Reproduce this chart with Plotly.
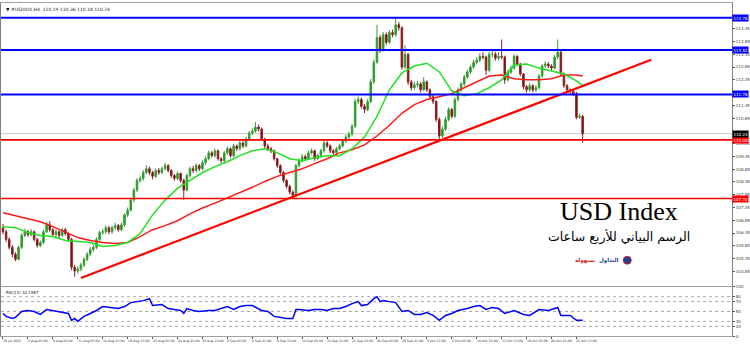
import plotly.graph_objects as go

# ---------------- data ----------------
closes = [106.40,106.10,105.79,105.52,105.32,105.79,106.25,106.40,106.29,106.40,
          106.10,105.86,105.98,106.40,106.67,106.48,106.29,106.40,106.25,106.48,
          106.33,106.10,105.01,104.86,104.94,105.09,105.32,105.52,105.71,105.79,
          106.10,106.37,106.40,106.56,106.40,106.56,106.64,106.48,106.67,107.06,
          107.25,107.64,108.03,108.41,108.49,108.72,108.87,108.72,108.57,108.80,
          108.72,108.87,108.99,108.80,108.60,108.49,108.68,108.41,108.03,108.60,
          108.87,108.80,108.99,108.87,109.11,109.26,109.49,109.38,109.57,109.26,
          109.18,109.49,109.65,109.38,109.76,109.65,109.88,109.76,110.03,110.26,
          110.34,110.50,110.42,110.03,109.76,109.65,109.57,109.26,108.99,108.72,
          108.41,108.18,107.95,107.83,108.99,109.18,109.34,109.26,109.49,109.57,
          109.26,109.38,109.57,109.88,109.76,109.57,109.49,109.65,109.76,109.95,
          110.11,110.23,110.53,111.50,111.58,111.31,111.19,111.50,112.27,113.04,
          114.01,113.51,114.12,113.82,114.20,114.12,114.51,114.39,112.85,113.35,
          112.27,112.04,112.16,112.19,111.96,112.27,111.96,111.69,111.50,110.80,
          110.15,110.42,110.80,111.19,110.92,111.58,111.96,112.19,112.46,112.66,
          112.85,113.04,113.12,113.27,113.24,112.73,113.35,113.35,113.20,113.27,
          113.24,112.35,112.66,112.81,113.27,112.97,112.58,112.08,111.96,112.12,
          111.96,112.04,112.50,112.89,112.97,112.89,112.81,113.24,113.43,112.58,
          112.12,111.96,111.89,111.81,110.88,110.92,110.24]

highs = [106.70,106.48,106.18,105.88,105.60,105.85,106.35,106.52,106.48,106.50,
         106.45,106.15,106.05,106.48,106.78,106.82,106.55,106.50,106.46,106.56,
         106.55,106.38,106.15,105.10,105.05,105.18,105.40,105.60,105.80,105.90,
         106.18,106.45,106.52,106.65,106.62,106.64,106.75,106.70,106.76,107.12,
         107.35,107.72,108.12,108.50,108.60,108.82,109.00,108.95,108.78,108.88,
         108.90,108.95,109.10,109.05,108.85,108.66,108.76,108.72,108.48,108.68,
         108.95,108.98,109.08,109.05,109.20,109.35,109.58,109.56,109.66,109.62,
         109.32,109.56,109.74,109.70,109.84,109.82,109.96,109.94,110.12,110.35,
         110.45,110.70,110.60,110.48,110.08,109.84,109.72,109.62,109.30,109.04,
         108.78,108.46,108.24,108.02,109.06,109.28,109.44,109.42,109.58,109.66,
         109.62,109.46,109.65,109.98,109.95,109.82,109.64,109.72,109.85,110.04,
         110.20,110.32,110.62,111.62,111.70,111.66,111.40,111.60,112.38,113.15,
         114.51,114.10,114.22,114.20,114.30,114.32,114.78,114.62,114.45,113.70,
         113.40,112.35,112.28,112.30,112.25,112.46,112.32,112.02,111.76,111.55,
         110.88,110.52,110.90,111.28,111.25,111.66,112.05,112.28,112.55,112.75,
         112.94,113.14,113.24,113.40,113.43,113.30,113.45,113.50,113.45,113.42,
         113.93,113.30,112.75,112.90,113.35,113.32,113.02,112.62,112.15,112.22,
         112.18,112.14,112.58,112.98,113.08,113.05,112.96,113.32,113.93,113.50,
         112.64,112.18,112.02,111.96,111.88,111.02,110.98]

lows = [106.30,106.00,105.70,105.40,105.25,105.28,105.72,106.18,106.20,106.22,
        106.02,105.78,105.80,105.92,106.35,106.40,106.22,106.20,106.15,106.20,
        106.25,106.00,104.90,104.63,104.75,104.85,105.02,105.25,105.45,105.62,
        105.72,106.02,106.28,106.32,106.30,106.32,106.48,106.40,106.42,106.60,
        106.98,107.18,107.55,107.95,108.32,108.40,108.65,108.62,108.45,108.50,
        108.62,108.65,108.80,108.72,108.52,108.40,108.42,108.32,107.64,107.98,
        108.52,108.70,108.72,108.78,108.80,109.02,109.20,109.30,109.30,109.18,
        109.08,109.12,109.42,109.30,109.32,109.56,109.58,109.68,109.70,109.96,
        110.18,110.28,110.32,109.95,109.68,109.56,109.48,109.18,108.90,108.64,
        108.32,108.10,107.86,107.68,107.78,108.92,109.10,109.18,109.20,109.42,
        109.18,109.20,109.32,109.50,109.68,109.48,109.40,109.42,109.58,109.70,
        109.88,110.04,110.15,110.46,111.40,111.22,111.05,111.12,111.44,112.20,
        112.98,113.40,113.45,113.72,113.75,114.02,114.05,114.28,112.75,112.78,
        112.15,111.92,111.96,112.05,111.85,111.90,111.88,111.60,111.40,110.70,
        109.95,110.08,110.35,110.72,110.84,110.86,111.50,111.88,112.10,112.38,
        112.58,112.78,112.96,113.05,113.15,112.54,112.66,113.22,113.10,113.12,
        113.15,112.19,112.28,112.58,112.75,112.88,112.50,111.98,111.85,111.88,
        111.86,111.88,111.98,112.44,112.82,112.80,112.72,112.76,113.15,112.50,
        112.04,111.86,111.80,111.72,110.80,110.82,109.88]

first_open = 106.55
opens = [first_open] + closes[:-1]
bars = list(range(len(closes)))

ma_idx = list(range(0, 185, 4)) + [186]
ma_fast = [106.60,106.56,106.37,106.25,106.21,106.06,106.02,105.98,105.82,105.86,
           105.98,106.33,107.06,107.64,108.10,108.41,108.72,108.95,109.14,109.38,
           109.57,109.65,109.49,109.26,109.18,109.30,109.38,109.38,109.65,110.11,
           110.92,111.96,112.62,112.89,113.00,112.66,111.92,111.73,111.81,112.04,
           112.35,112.93,112.97,112.81,112.70,112.58,112.31,112.12]
ma_slow = [107.14,107.02,106.91,106.79,106.60,106.37,106.17,106.06,105.98,105.94,
           105.98,106.21,106.48,106.64,106.83,107.10,107.33,107.52,107.72,107.91,
           108.14,108.37,108.57,108.72,108.87,109.07,109.26,109.49,109.61,109.80,
           110.15,110.57,111.04,111.38,111.58,111.69,111.81,112.04,112.27,112.50,
           112.54,112.39,112.35,112.35,112.39,112.54,112.54,112.50]

rsi_idx = [0,1,3,4,6,8,10,12,14,16,18,21,22,23,24,26,28,30,32,35,
           37,39,41,43,45,47,48,51,53,55,57,58,59,61,63,66,68,70,72,74,
           76,78,80,83,85,87,89,91,93,94,95,98,100,102,104,106,108,110,112,114,
           115,117,119,120,121,122,124,126,128,130,132,134,136,138,140,142,144,146,149,151,
           153,155,157,159,161,164,167,169,172,175,178,179,182,184,186]
rsi_val = [46,40,36,38,50,52,50,44,54,52,50,46,32,36,30,40,46,52,60,58,
           56,60,68,70,72,76,62,64,56,54,52,46,56,52,50,52,52,56,60,54,
           60,62,62,52,50,40,38,36,36,54,54,52,54,54,52,56,56,60,66,70,
           62,64,76,80,70,72,70,68,50,52,44,44,48,42,32,42,46,52,56,60,
           62,54,58,56,46,52,44,42,54,52,58,42,42,32,32.2]

levels_blue = [114.78, 113.52, 111.78]
levels_red = [110.00, 107.70]
last_price = 110.24
trend_x = [25, 208]
trend_y = [104.59, 113.14]

date_idx = list(range(0, 185, 8))
date_labels = ["29 Jul 2022", "3 Aug 05:00", "8 Aug 05:00", "11 Aug 05:00", "16 Aug 21:00",
               "18 Aug 13:00", "23 Aug 05:00", "26 Aug 21:00", "30 Aug 13:00", "2 Sep 05:00",
               "6 Sep 21:00", "9 Sep 13:00", "14 Sep 05:00", "16 Sep 21:00", "21 Sep 13:00",
               "26 Sep 05:00", "28 Sep 21:00", "3 Oct 13:00", "6 Oct 05:00", "10 Oct 21:00",
               "13 Oct 13:00", "18 Oct 05:00", "20 Oct 21:00", "25 Oct 13:00"]
price_ticks = [104.85, 105.35, 105.85, 106.35, 106.85, 107.35, 107.85, 108.35, 108.85, 109.35,
               109.85, 110.85, 111.35, 112.35, 112.85, 113.35, 113.85, 114.35]
rsi_levels = [80, 70, 50, 30, 20]
rsi_ticks = [0, 20, 30, 50, 70, 80, 100]

header_text = "▼ #USDIDX,H4  110.19 110.36 110.18 110.24"
rsi_text = "RSI(14) 32.1987"

# ---------------- layout helpers ----------------
H = 346.0
def py(pix):
    return 1 - pix / H

X_RANGE = [-0.64, 233.92]
FR = "#a0a0a0"
TF = dict(family="DejaVu Sans", size=4, color="#333333")
DF = dict(family="DejaVu Sans", size=3.2, color="#333333")

fig = go.Figure()

fig.add_trace(go.Candlestick(
    x=bars, open=opens, high=highs, low=lows, close=closes,
    xaxis="x", yaxis="y", whiskerwidth=0,
    increasing=dict(line=dict(color="#3a9a3a", width=1), fillcolor="#00a800"),
    decreasing=dict(line=dict(color="#8a2424", width=1), fillcolor="#800000"),
    showlegend=False, hoverinfo="skip"))

fig.add_trace(go.Scatter(x=ma_idx, y=ma_slow, mode="lines", line=dict(color="#ff1a1a", width=1.5),
                         xaxis="x", yaxis="y", showlegend=False, hoverinfo="skip"))
fig.add_trace(go.Scatter(x=ma_idx, y=ma_fast, mode="lines", line=dict(color="#22e022", width=1.5),
                         xaxis="x", yaxis="y", showlegend=False, hoverinfo="skip"))

fig.add_trace(go.Scatter(x=trend_x, y=trend_y, mode="lines", line=dict(color="#ff0000", width=2.2),
                         xaxis="x", yaxis="y", showlegend=False, hoverinfo="skip", cliponaxis=True))

fig.add_trace(go.Scatter(x=rsi_idx, y=rsi_val, mode="lines", line=dict(color="#0000ff", width=1.5),
                         xaxis="x2", yaxis="y2", showlegend=False, hoverinfo="skip"))

shapes = []
for lv in levels_blue:
    shapes.append(dict(type="line", xref="paper", x0=0, x1=1, yref="y", y0=lv, y1=lv,
                       line=dict(color="#0000ff", width=2), layer="above"))
for lv in levels_red:
    shapes.append(dict(type="line", xref="paper", x0=0, x1=1, yref="y", y0=lv, y1=lv,
                       line=dict(color="#ff0000", width=1.6), layer="above"))
shapes.append(dict(type="line", xref="paper", x0=0, x1=1, yref="y", y0=last_price, y1=last_price,
                   line=dict(color="#c8c8c8", width=1), layer="below"))
for lv in rsi_levels:
    shapes.append(dict(type="line", xref="paper", x0=0, x1=1, yref="y2", y0=lv, y1=lv,
                       line=dict(color="#909090", width=0.8, dash="dot"), layer="below"))
# logo icon
shapes.append(dict(type="circle", xref="paper", yref="paper",
                   x0=624/733, x1=632/733, y0=py(265), y1=py(257),
                   fillcolor="#1d3f9a", line=dict(color="#e02020", width=1)))

annotations = []
for i, lab in zip(date_idx, date_labels):
    annotations.append(dict(x=i, xref="x2", y=py(339), yref="paper", text=lab, showarrow=False,
                            xanchor="left", yanchor="top", font=DF, xshift=-2))

def tag(val, bg, yref="y"):
    return dict(x=1.0, xref="paper", y=val, yref=yref, text=f"{val:.2f}", showarrow=False,
                xanchor="left", yanchor="middle", bgcolor=bg, borderpad=0.5,
                font=dict(family="DejaVu Sans", size=4, color="white"))

for lv in levels_blue:
    annotations.append(tag(lv, "#0000ff"))
for lv in levels_red:
    annotations.append(tag(lv, "#ff0000"))
annotations.append(tag(last_price, "#000000"))

annotations.append(dict(x=3/733, xref="paper", y=py(2), yref="paper", text=header_text, showarrow=False,
                        xanchor="left", yanchor="top", font=dict(family="DejaVu Sans", size=4.5, color="#222")))
annotations.append(dict(x=3/733, xref="paper", y=py(289.5), yref="paper", text=rsi_text, showarrow=False,
                        xanchor="left", yanchor="top", font=dict(family="DejaVu Sans", size=4, color="#222")))

annotations.append(dict(x=620/733, xref="paper", y=py(212), yref="paper", text="USD Index", showarrow=False,
                        xanchor="center", yanchor="middle",
                        font=dict(family="Liberation Serif", size=26, color="#000000")))
annotations.append(dict(x=620/733, xref="paper", y=py(237), yref="paper", text="الرسم البياني للأربع ساعات",
                        showarrow=False, xanchor="center", yanchor="middle",
                        font=dict(family="DejaVu Sans", size=12.5, color="#000000")))
annotations.append(dict(x=598/733, xref="paper", y=py(261), yref="paper", text="<b>بسهولة</b>",
                        showarrow=False, xanchor="right", yanchor="middle",
                        font=dict(family="DejaVu Sans", size=5.5, color="#e02020")))
annotations.append(dict(x=622/733, xref="paper", y=py(261), yref="paper", text="<b>التداول</b>",
                        showarrow=False, xanchor="right", yanchor="middle",
                        font=dict(family="DejaVu Sans", size=5.5, color="#1d3f9a")))

fig.update_layout(
    width=750, height=346,
    margin=dict(l=0, r=17, t=0, b=0),
    paper_bgcolor="white", plot_bgcolor="white",
    shapes=shapes, annotations=annotations,
    xaxis=dict(domain=[0, 1], range=X_RANGE, anchor="y", showticklabels=False, showgrid=False,
               zeroline=False, showline=True, linecolor=FR, linewidth=1, mirror=True, ticks="",
               rangeslider=dict(visible=False), fixedrange=True),
    yaxis=dict(domain=[py(287), 1], range=[104.28, 115.36], side="right", anchor="x",
               tickvals=price_ticks, ticktext=[f"{v:.2f}" for v in price_ticks],
               tickfont=TF, ticks="outside", ticklen=2, tickcolor="#555",
               showgrid=False, zeroline=False, showline=True, linecolor="#808080", linewidth=1,
               mirror=True),
    xaxis2=dict(domain=[0, 1], range=X_RANGE, anchor="y2", tickvals=date_idx, showticklabels=False,
                ticks="outside", ticklen=2, tickcolor="#555", showgrid=False, zeroline=False,
                showline=True, linecolor=FR, linewidth=1, mirror=True),
    yaxis2=dict(domain=[py(338), py(288)], range=[0, 100], side="right", anchor="x2",
                tickvals=rsi_ticks, ticktext=[str(v) for v in rsi_ticks], tickfont=TF,
                ticks="outside", ticklen=2, tickcolor="#555", showgrid=False, zeroline=False,
                showline=True, linecolor="#808080", linewidth=1, mirror=True),
)

fig.write_html("out.html")
